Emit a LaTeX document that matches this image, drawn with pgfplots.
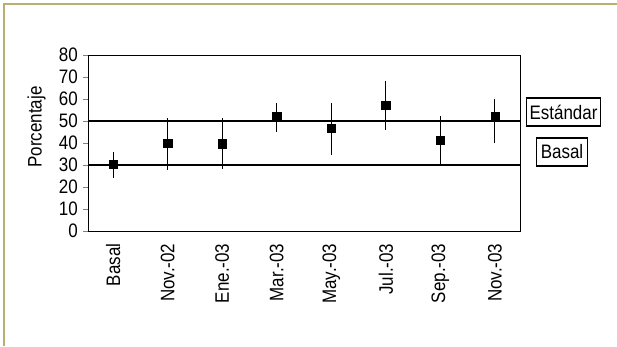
\documentclass[border=0pt]{standalone}
\usepackage{fontspec}
\setmainfont{Liberation Sans}[FakeStretch=0.87]
\usepackage{pgfplots}
\pgfplotsset{compat=1.18}
\usepackage{pgfplotstable}
\definecolor{olive}{RGB}{184,176,112}
\pgfplotstableread{
x y ep em
0 30.5 5.5 6.5
1 40.0 11.2 12.3
2 39.7 11.6 11.4
3 52.0 6.0 7.0
4 46.7 11.6 12.2
5 57.1 11.1 11.2
6 41.4 10.9 10.9
7 52.3 7.6 12.2
}\datatable
\newcommand{\chartfont}{\fontsize{19.5pt}{21pt}\selectfont}
\begin{document}
\chartfont
\begin{tikzpicture}
\useasboundingbox (0pt,0pt) rectangle (617pt,346pt);
\fill[white] (0pt,0pt) rectangle (617pt,346pt);
\draw[olive, line width=2.5pt] (4pt,0pt) -- (4pt,342pt) -- (617pt,342pt);
\begin{axis}[
  at={(88pt,115pt)}, anchor=south west,
  scale only axis, width=432pt, height=176pt,
  xmin=-0.46, xmax=7.46, ymin=0, ymax=80,
  ytick={0,10,...,80},
  xtick={0,...,7},
  xticklabels={Basal,Nov.-02,Ene.-03,Mar.-03,May.-03,Jul.-03,Sep.-03,Nov.-03},
  x tick label style={rotate=90, anchor=east, font=\chartfont},
  y tick label style={font=\chartfont},
  /pgf/number format/assume math mode=true,
  xtick style={draw=none},
  ytick pos=left, tick align=outside, major tick length=5pt,
  ytick style={line width=0.8pt},
  axis line style={line width=0.9pt},
  xticklabel shift=1pt,
  yticklabel shift=-1.5pt,
  clip=false,
]
\addplot[black, line width=2pt] coordinates {(-0.46,50) (7.46,50)};
\addplot[black, line width=2pt] coordinates {(-0.46,30) (7.46,30)};
\addplot[only marks, mark=square*, mark size=4.2pt, black,
  error bars/.cd, y dir=both, y explicit,
  error bar style={line width=1.1pt}, error mark=none]
  table[x=x, y=y, y error plus=ep, y error minus=em]{\datatable};
\end{axis}
\node[rotate=90] at (36.7pt,219pt) {Porcentaje};
\node[draw, line width=1.1pt, inner xsep=3pt, minimum height=28pt, inner ysep=0pt] at (563.5pt,234pt) {Estándar};
\node[draw, line width=1.1pt, inner xsep=4.5pt, minimum height=28pt, inner ysep=0pt] at (562pt,194pt) {Basal};
\end{tikzpicture}
\end{document}
